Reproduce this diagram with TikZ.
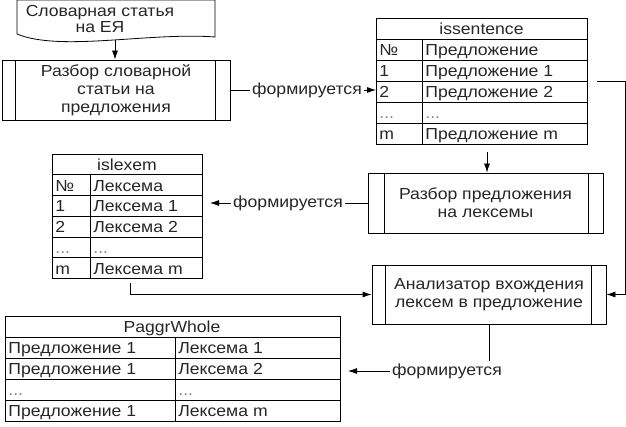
\documentclass[tikz,border=0pt]{standalone}
\usepackage{fontspec}
\setmainfont[FakeStretch=1.1]{Liberation Sans}
\usetikzlibrary{arrows.meta}
\newcommand\pplines[3]{%
  \draw ([xshift=#2pt]#1.north west) -- ([xshift=#2pt]#1.south west);
  \draw ([xshift=-#3pt]#1.north east) -- ([xshift=-#3pt]#1.south east);}
\begin{document}
\begin{tikzpicture}[x=1pt,y=-1pt,line width=0.8pt,
  every node/.style={font=\fontsize{16}{18}\selectfont,text=black!85,inner sep=0pt},
  arr/.style={-{Latex[length=9pt,width=6pt]}},
  proc/.style={draw,minimum width=#1,minimum height=60pt,align=center},
  lbl/.style={inner sep=2pt},
  cell/.style={anchor=base west},
  ttl/.style={anchor=base},
  dots/.style={anchor=base west,text=black!50}]
\useasboundingbox (0,0) rectangle (626,427);

% document shape
\draw (17,0) -- (17,34) .. controls (60,52) and (150,32) .. (215,37) -- (215,0) -- cycle;
\node[align=center,font=\fontsize{16}{16}\selectfont] (doc) at (100,19) {Словарная статья\\на ЕЯ};
\coordinate (docb) at (115,40);

% process boxes
\node[proc=228pt] (b1) at (116,90) {Разбор словарной\\статьи на\\предложения};
\pplines{b1}{14}{15}
\node[proc=235pt] (b2) at (485.5,203) {Разбор предложения\\на лексемы};
\pplines{b2}{17}{15}
\node[proc=234pt,minimum height=59pt] (b3) at (489,294.5) {Анализатор вхождения\\лексем в предложение};
\pplines{b3}{14}{15}

% table issentence
\draw (376,18) rectangle (587,144);
\foreach \y in {39,60,81,102,123} \draw (376,\y) -- (587,\y);
\draw (422,39) -- (422,144);
\node[ttl] (isT) at (481.5,34.5) {issentence};
\node[cell] (isN) at (379,55.5) {№};
\node[cell] (is1) at (379,76.5) {1};
\node[cell] (is2) at (379,97.5) {2};
\node[dots] (isD) at (379,118.5) {...};
\node[cell] (isM) at (379,139.5) {m};
\node[cell] (isH) at (425,55.5) {Предложение};
\node[cell] (isA) at (425,76.5) {Предложение 1};
\node[cell] (isB) at (425,97.5) {Предложение 2};
\node[dots] (isC) at (425,118.5) {...};
\node[cell] (isE) at (425,139.5) {Предложение m};

% table islexem
\draw (52,154) rectangle (202,278.5);
\foreach \y in {174.75,195.5,216.25,237,257.75} \draw (52,\y) -- (202,\y);
\draw (90,174.75) -- (90,278.5);
\node[ttl] (lxT) at (127,170.4) {islexem};
\node[cell] (lxN) at (55,191.1) {№};
\node[cell] (lx1n) at (55,211.9) {1};
\node[cell] (lx2n) at (55,232.6) {2};
\node[dots] (lxDn) at (55,253.4) {...};
\node[cell] (lxMn) at (55,274.1) {m};
\node[cell] (lxH) at (93,191.1) {Лексема};
\node[cell] (lxA) at (93,211.9) {Лексема 1};
\node[cell] (lxB) at (93,232.6) {Лексема 2};
\node[dots] (lxC) at (93,253.4) {...};
\node[cell] (lxE) at (93,274.1) {Лексема m};

% table PaggrWhole
\draw (5,316) rectangle (340,421);
\foreach \y in {337,358,379,400} \draw (5,\y) -- (340,\y);
\draw (175,337) -- (175,421);
\node[ttl] (pwT) at (172,332.5) {PaggrWhole};
\node[cell] (pw1a) at (8,353.5) {Предложение 1};
\node[cell] (pw2a) at (8,374.5) {Предложение 1};
\node[dots] (pw3a) at (8,395.5) {...};
\node[cell] (pw4a) at (8,416.5) {Предложение 1};
\node[cell] (pw1b) at (178,353.5) {Лексема 1};
\node[cell] (pw2b) at (178,374.5) {Лексема 2};
\node[dots] (pw3b) at (178,395.5) {...};
\node[cell] (pw4b) at (178,416.5) {Лексема m};

% labels
\node[lbl] (f1) at (307,90) {формируется};
\node[lbl] (f2) at (288,203) {формируется};
\node[lbl] (f3) at (447,371) {формируется};

% named connector ends
\coordinate (iss2) at (376,90);
\coordinate (isbot) at (487,152);
\coordinate (lxr) at (210,203);
\coordinate (lxbot) at (130,283);
\coordinate (isr) at (597,81);
\coordinate (rc) at (625,81);
\coordinate (pwr) at (348,371);

% connectors
\draw[arr] (docb) -- (docb |- b1.north);
\draw (b1.east) -- (f1.west);
\draw[arr] (f1.east) -- (iss2);
\draw[arr] (isbot) -- (isbot |- b2.north);
\draw (b2.west) -- (f2.east);
\draw[arr] (f2.west) -- (lxr);
\draw[arr] (lxbot) |- (b3.west);
\draw[arr] (isr) -- (rc) |- (b3.east);
\draw (b3.south) -- (b3.south |- f3.north);
\draw[arr] (f3.west) -- (pwr);
\end{tikzpicture}
\end{document}
